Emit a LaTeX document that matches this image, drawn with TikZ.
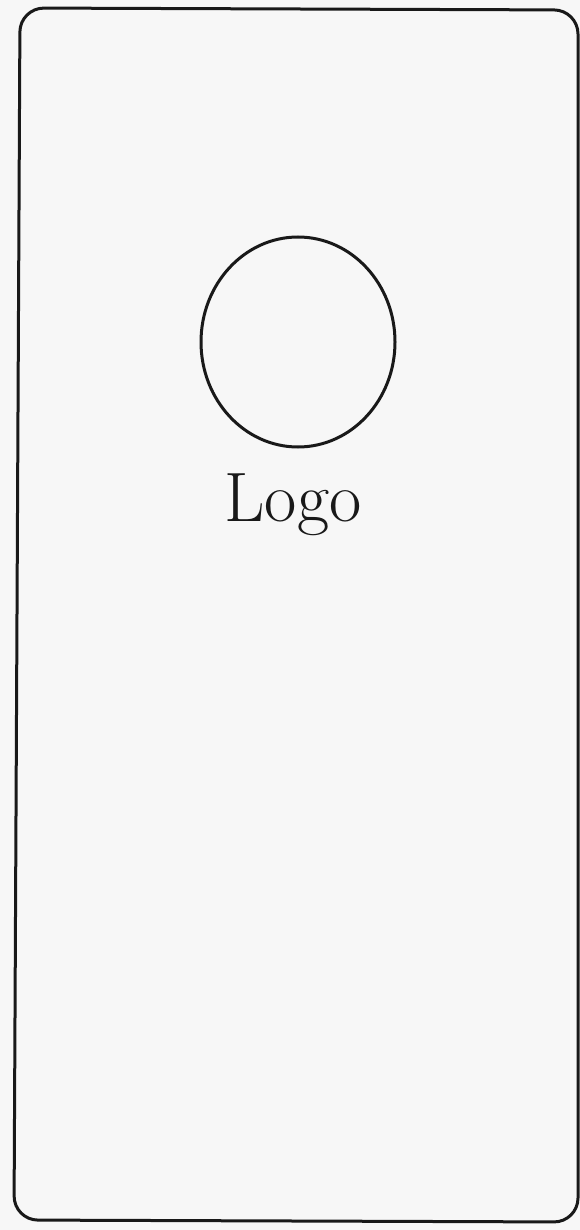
\documentclass[tikz,border=0pt]{standalone}
\usetikzlibrary{shapes.geometric}
\begin{document}
\begin{tikzpicture}[x=1pt,y=-1pt,
  sketch/.style={draw=black!90,line width=3pt},
  lbl/.style={font=\fontsize{70}{80}\selectfont, text=black!90}]
\useasboundingbox (0,0) rectangle (580,1230);
\fill[white!97!black] (0,0) rectangle (580,1230);
\draw[sketch,rounded corners=24pt] (20,8) -- (578,10) -- (578,1222) -- (14,1220) -- cycle;
\node[sketch,ellipse,minimum width=194pt,minimum height=210pt,inner sep=0pt] (logo) at (298,342) {};
\node[lbl] (txt) at (293,505) {Logo};
\end{tikzpicture}
\end{document}
